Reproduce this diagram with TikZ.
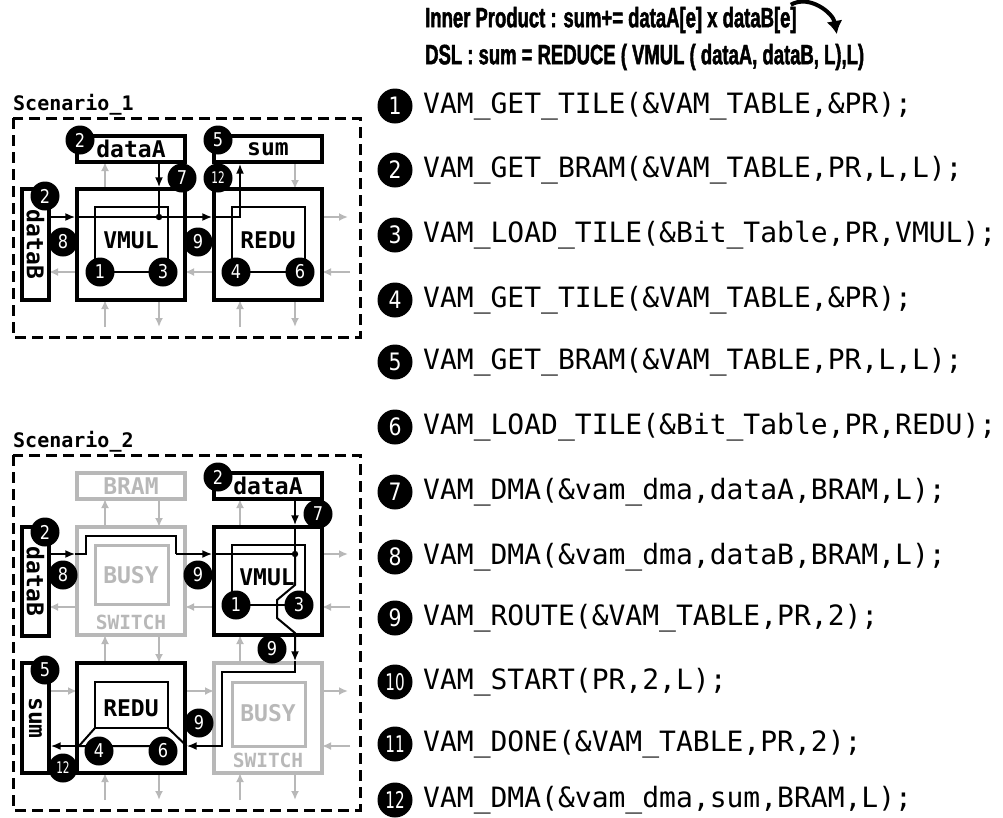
\documentclass[tikz,border=0pt]{standalone}
\usepackage{fontspec}
\usetikzlibrary{arrows.meta}
\newfontfamily\monof{DejaVu Sans Mono}
\newfontfamily\digf[FakeStretch=0.85]{DejaVu Sans}
\newfontfamily\dignf[FakeStretch=0.66]{DejaVu Sans}
\newfontfamily\headf[FakeStretch=0.66,FakeBold=1.6]{Liberation Sans}
\definecolor{lgray}{gray}{0.72}
\newcommand{\boxfont}{\monof\bfseries\fontsize{23}{25}\selectfont}
\newcommand{\scenfont}{\monof\bfseries\fontsize{20}{22}\selectfont}
\newcommand{\swfont}{\monof\bfseries\fontsize{19.5}{21}\selectfont}
\newcommand{\codefont}{\monof\fontsize{28}{30}\selectfont}
\newcommand{\headfont}{\headf\bfseries\fontsize{28}{30}\selectfont}

\begin{document}
\begin{tikzpicture}[x=1pt,y=-1pt,
  tile/.style={draw, line width=3.3pt, inner sep=0pt, minimum width=108pt, minimum height=110pt},
  gtile/.style={tile, draw=lgray},
  bar/.style={draw, line width=3.3pt, inner sep=0pt, minimum width=108pt, minimum height=26pt, font=\boxfont},
  vbar/.style={draw, line width=3.3pt, inner sep=0pt, minimum width=27pt, minimum height=110pt},
  vtxt/.style={rotate=-90, font=\boxfont},
  tlbl/.style={font=\boxfont},
  inbox/.style={line width=2.4pt},
  frame/.style={line width=3pt, dash pattern=on 11pt off 6pt},
  num/.style={circle, fill=black, text=white, inner sep=0pt, minimum size=29pt, font=\digf\fontsize{19}{19}\selectfont},
  numsm/.style={num, font=\dignf\fontsize{16}{16}\selectfont},
  lnum/.style={circle, fill=black, text=white, inner sep=0pt, minimum size=35pt, font=\digf\fontsize{24}{24}\selectfont},
  lnumsm/.style={lnum, font=\dignf\fontsize{23}{23}\selectfont},
  wire/.style={line width=2pt},
  flow/.style={wire, -{Latex[length=10pt,width=8pt]}},
  gflow/.style={line width=2pt, draw=lgray, -{Latex[length=9pt,width=8pt]}},
  code/.style={anchor=west, inner sep=0pt, font=\codefont}]
\useasboundingbox (0,0) rectangle (1003,817);

% heading
\node[anchor=west, inner sep=0pt, font=\headfont] (hd1) at (425,20) {Inner Product : sum+= dataA[e] x dataB[e]};
\node[anchor=west, inner sep=0pt, font=\headfont] (hd2) at (425,57) {DSL : sum = REDUCE ( VMUL ( dataA, dataB, L),L)};
\coordinate (arrs) at ([xshift=-6pt, yshift=2pt]hd1.north east);
\coordinate (arre) at ([xshift=40pt, yshift=-14pt]hd1.east);
\draw[line width=4pt, -{Latex[length=13pt,width=16pt]}] (arrs) to[out=30, in=100] (arre);

% ---------- Scenario 1 ----------
\node[anchor=west, inner sep=0pt, font=\scenfont] (sc1) at (13,105) {Scenario\_1};
\draw[frame] (13,118) rectangle (360,337);
\foreach \x/\ya/\yb in {105/189/162, 105/327/300, 240/327/300, 295/162/189, 159/300/327, 295/300/327}
  \draw[gflow] (\x,\ya) -- (\x,\yb);
\foreach \y/\xa/\xb in {272/77/49, 272/214/185, 272/350/322, 217/322/348}
  \draw[gflow] (\xa,\y) -- (\xb,\y);

\node[bar] (dataA1) at (131,149) {dataA};
\node[bar] (sum1) at (268,149) {sum};
\node[tile, minimum height=111pt] (vmul1) at (131,244.5) {};
\node[tile, minimum height=111pt] (redu1) at (268,244.5) {};
\node[vbar, minimum height=111pt] (dataB1) at (35.5,244.5) {};
\node[vtxt] at (dataB1) {dataB};
\draw[inbox] (95,207) rectangle (168,272);
\draw[inbox] (232,207) rectangle (305,272);
\node[tlbl] at (131,240) {VMUL};
\node[tlbl] at (268,240) {REDU};

\coordinate (hi1) at (0,217);
\coordinate (j1) at (159,217);
\coordinate (up1) at (240,217);
\draw[flow] (dataB1.east |- hi1) -- (vmul1.west |- hi1);
\draw[wire] (vmul1.west |- hi1) -- (j1);
\draw[flow] (j1) -- (redu1.west |- hi1);
\draw[flow] (redu1.west |- hi1) -- (up1) -- (sum1.south -| up1);
\draw[flow] (dataA1.south -| j1) -- (vmul1.north -| j1);
\draw[wire] (vmul1.north -| j1) -- (j1);
\fill (j1) circle (3.2);

\node[num] (s1n2a) at (80,140) {2};
\node[num] (s1n5) at (218,140) {5};
\node[num] (s1n2b) at (45,196) {2};
\node[num] (s1n8) at (63,242) {8};
\node[num] (s1n7) at (182,178) {7};
\node[numsm] (s1n12) at (218,178) {12};
\node[num] (s1n9) at (198,242) {9};
\node[num] (s1n1) at (100,272) {1};
\node[num] (s1n3) at (163,272) {3};
\node[num] (s1n4) at (236,272) {4};
\node[num] (s1n6) at (300,272) {6};

% ---------- Scenario 2 ----------
\node[anchor=west, inner sep=0pt, font=\scenfont] (sc2) at (13,442) {Scenario\_2};
\draw[frame] (13,455) rectangle (360,810);
\foreach \x/\ya/\yb in {105/527/499, 159/499/527, 240/527/499, 105/663/635, 159/635/663, 240/663/635,
                       105/800/773, 159/773/800, 240/800/773, 295/773/800}
  \draw[gflow] (\x,\ya) -- (\x,\yb);
\foreach \y/\xa/\xb in {607/77/49, 607/214/185, 607/350/322, 554/322/348,
                       691/49/77, 691/185/214, 691/322/348, 746/350/322}
  \draw[gflow] (\xa,\y) -- (\xb,\y);

\node[bar, draw=lgray, text=lgray] (bram2) at (131,486) {BRAM};
\node[bar] (dataA2) at (268,486) {dataA};
\node[gtile, minimum height=108pt] (busy2) at (131,581) {};
\draw[inbox, lgray, line width=3pt] (95,545) rectangle (168,604);
\node[tlbl, text=lgray] at (131,575) {BUSY};
\node[font=\swfont, text=lgray] at (131,622) {SWITCH};
\node[tile, minimum height=108pt] (vmul2) at (268,581) {};
\draw[inbox] (232,545) rectangle (305,605);
\node[tlbl] at (267,577) {VMUL};
\node[vbar, minimum height=109pt] (dataB2) at (35.5,581.5) {};
\node[vtxt] at (dataB2) {dataB};

\node[tile] (redu2) at (131,718) {};
\draw[inbox] (95,682) rectangle (168,728);
\node[tlbl] at (131,708) {REDU};
\node[gtile] (busy3) at (268,718) {};
\draw[inbox, lgray, line width=3pt] (232,682) rectangle (305,746);
\node[tlbl, text=lgray] at (268,713) {BUSY};
\node[font=\swfont, text=lgray] at (268,760) {SWITCH};
\node[vbar] (sum2) at (35.5,718) {};
\node[vtxt] at (sum2) {sum};

\coordinate (hi2) at (0,554);
\coordinate (j2) at (295,554);
\coordinate (lo3) at (0,746);
\draw[flow] (dataB2.east |- hi2) -- (busy2.west |- hi2);
\draw[wire] (busy2.west |- hi2) -- (86,554) -- (86,536) -- (176,536) -- (176,554);
\draw[flow] (176,554) -- (vmul2.west |- hi2);
\draw[wire] (vmul2.west |- hi2) -- (j2);
\draw[flow] (dataA2.south -| j2) -- (vmul2.north -| j2);
\draw[wire] (vmul2.north -| j2) -- (j2);
\fill (j2) circle (3.2);
\draw[flow] (j2) -- (295,585) -- (277,600) -- (277,618) -- (295,633) -- (busy3.north -| j2);
\draw[flow] (busy3.north -| j2) -- (295,672) -- (222,672) -- (222,746) -- (redu2.east |- lo3);
\draw[wire] (95,728) -- (79,746) -- (163,746);
\draw[flow] (79,746) -- (sum2.east |- lo3);
\draw[wire] (168,728) -- (redu2.east |- lo3);

\node[num] (s2n2a) at (218,477) {2};
\node[num] (s2n7) at (318,514) {7};
\node[num] (s2n2b) at (45,532) {2};
\node[num] (s2n8) at (63,575) {8};
\node[num] (s2n9a) at (198,575) {9};
\node[num] (s2n1) at (236,605) {1};
\node[num] (s2n3) at (299,605) {3};
\node[num] (s2n9b) at (272,649) {9};
\node[num] (s2n5) at (45,670) {5};
\node[num] (s2n9c) at (199,723) {9};
\node[num] (s2n4) at (99,751) {4};
\node[num] (s2n6) at (163,751) {6};
\node[numsm] (s2n12) at (63,768) {12};

% ---------- API calls ----------
\foreach \k/\yy/\txt in {1/106/{VAM\_GET\_TILE(\&VAM\_TABLE,\&PR);},
                        2/170/{VAM\_GET\_BRAM(\&VAM\_TABLE,PR,L,L);},
                        3/235/{VAM\_LOAD\_TILE(\&Bit\_Table,PR,VMUL);},
                        4/300/{VAM\_GET\_TILE(\&VAM\_TABLE,\&PR);},
                        5/362/{VAM\_GET\_BRAM(\&VAM\_TABLE,PR,L,L);},
                        6/427/{VAM\_LOAD\_TILE(\&Bit\_Table,PR,REDU);},
                        7/492/{VAM\_DMA(\&vam\_dma,dataA,BRAM,L);},
                        8/557/{VAM\_DMA(\&vam\_dma,dataB,BRAM,L);},
                        9/618/{VAM\_ROUTE(\&VAM\_TABLE,PR,2);}}
  {\node[lnum] (c\k) at (395,\yy) {\k};
   \node[code] (t\k) at (423,\yy) {\txt};}
\foreach \k/\yy/\txt in {10/682/{VAM\_START(PR,2,L);},
                        11/744/{VAM\_DONE(\&VAM\_TABLE,PR,2);},
                        12/800/{VAM\_DMA(\&vam\_dma,sum,BRAM,L);}}
  {\node[lnumsm] (c\k) at (395,\yy) {\k};
   \node[code] (t\k) at (423,\yy) {\txt};}
\end{tikzpicture}
\end{document}
